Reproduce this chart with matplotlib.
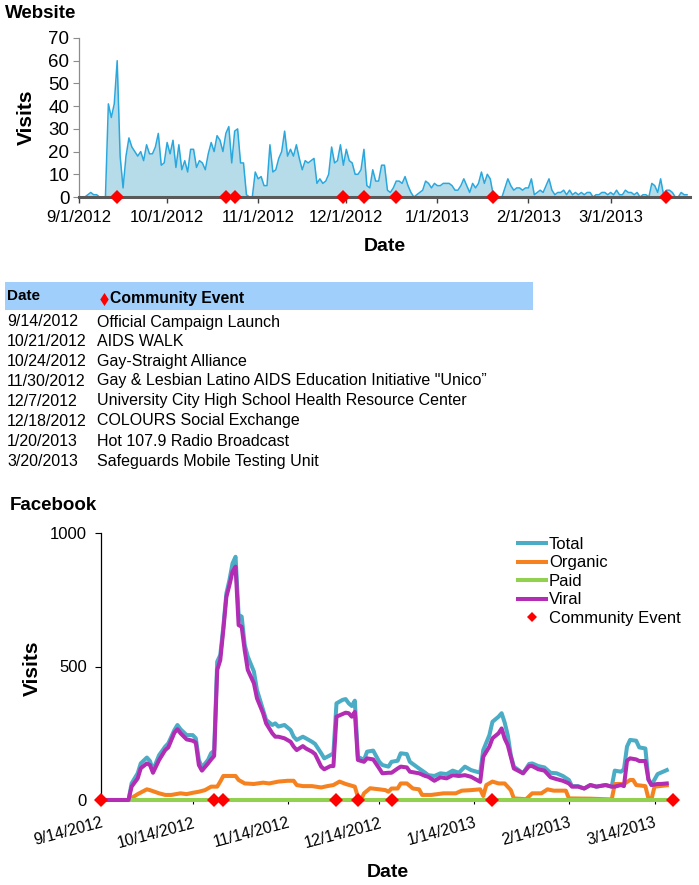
import matplotlib
matplotlib.use('Agg')
import matplotlib.pyplot as plt
import matplotlib.dates as mdates
from matplotlib.patches import Rectangle
from matplotlib.lines import Line2D
from matplotlib.ticker import FuncFormatter
import datetime as dt

plt.rcParams['font.family'] = ['Liberation Sans', 'DejaVu Sans']

# ---------------- data ----------------
web_start = dt.date(2012, 9, 1)
web_visits = [
    0, 0, 0, 1, 2, 1, 1, 0, 0, 0,
    41, 35, 41, 60, 18, 4, 18, 26, 22, 20,
    18, 20, 16, 23, 19, 19, 22, 28, 14, 15,
    24, 19, 25, 13, 23, 12, 16, 11, 21, 21,
    13, 16, 15, 12, 19, 24, 20, 27, 25, 20,
    28, 31, 15, 29, 30, 15, 15, 1, 0, 0,
    11, 8, 9, 5, 5, 23, 11, 12, 17, 20,
    29, 18, 21, 18, 23, 17, 12, 16, 15, 16,
    17, 6, 8, 6, 7, 10, 22, 15, 16, 23,
    14, 21, 16, 15, 10, 10, 12, 21, 5, 4,
    12, 7, 7, 14, 14, 3, 2, 4, 7, 7,
    6, 9, 5, 2, 0, 1, 2, 3, 7, 6,
    4, 6, 5, 5, 6, 6, 6, 5, 3, 3,
    5, 8, 5, 2, 6, 4, 6, 11, 6, 10,
    8, 1, 0, 0, 0, 4, 8, 5, 3, 4,
    4, 3, 4, 4, 8, 1, 2, 3, 2, 5,
    8, 3, 1, 2, 2, 3, 1, 3, 1, 2,
    1, 2, 1, 2, 2, 0, 1, 1, 2, 2,
    1, 2, 1, 3, 1, 1, 3, 2, 2, 1,
    2, 0, 1, 1, 0, 6, 5, 2, 8, 1,
    3, 3, 2, 0, 0, 2, 1, 1,
]

event_dates = ['9/14/2012', '10/21/2012', '10/24/2012', '11/30/2012',
               '12/7/2012', '12/18/2012', '1/20/2013', '3/20/2013']
event_names = ['Official Campaign Launch', 'AIDS WALK', 'Gay-Straight Alliance',
               'Gay & Lesbian Latino AIDS Education Initiative "Unico\u201d',
               'University City High School Health Resource Center',
               'COLOURS Social Exchange', 'Hot 107.9 Radio Broadcast',
               'Safeguards Mobile Testing Unit']

fb_start = dt.date(2012, 9, 14)
fb_tv_days = [0, 9, 10, 12, 13, 15, 16, 17, 19, 21, 22, 24, 25, 26, 28, 30, 31, 32, 33,
              35, 36, 37, 38, 39, 40, 41, 42, 43, 44, 45, 46, 47, 48, 50, 51, 53, 54,
              56, 57, 58, 60, 62, 63, 64, 66, 67, 69, 70, 72, 73, 75, 76, 77, 79, 80,
              81, 82, 83, 84, 86, 87, 89, 91, 92, 94, 95, 97, 98, 100, 101, 104, 106,
              107, 109, 111, 113, 115, 117, 119, 121, 124, 125, 127, 128, 130, 131,
              132, 133, 134, 135, 138, 140, 141, 143, 145, 147, 149, 151, 153, 154,
              156, 158, 160, 162, 165, 167, 168, 170, 171, 172, 173, 175, 176, 178,
              179, 180, 182, 183, 185]
fb_total = [0, 0, 62, 100, 137, 159, 146, 112, 168, 200, 212, 262, 281, 265, 243, 243,
            231, 150, 122, 150, 175, 185, 518, 543, 649, 774, 824, 886, 911, 693, 687,
            580, 537, 481, 412, 337, 300, 281, 287, 275, 281, 262, 237, 225, 237, 231,
            218, 210, 175, 156, 168, 175, 362, 375, 378, 362, 352, 372, 162, 150, 181,
            185, 143, 131, 125, 143, 147, 175, 172, 143, 118, 102, 93, 90, 100, 97, 110,
            102, 125, 112, 102, 187, 243, 293, 312, 325, 290, 243, 168, 125, 100, 135,
            137, 127, 122, 102, 100, 90, 75, 52, 52, 43, 56, 50, 56, 50, 110, 106, 115,
            200, 225, 222, 197, 193, 77, 56, 97, 102, 112]
fb_viral = [0, 0, 50, 81, 119, 137, 131, 102, 150, 187, 197, 252, 265, 250, 227, 222,
            215, 131, 110, 137, 152, 165, 487, 524, 637, 761, 805, 855, 874, 655, 649,
            560, 487, 437, 381, 325, 287, 250, 237, 237, 231, 218, 200, 187, 202, 193,
            181, 172, 125, 115, 127, 127, 312, 322, 327, 325, 312, 330, 150, 143, 156,
            152, 118, 100, 102, 102, 118, 125, 122, 106, 100, 90, 87, 72, 85, 81, 93,
            90, 93, 87, 68, 162, 200, 231, 250, 268, 230, 206, 162, 118, 100, 127,
            127, 115, 110, 85, 78, 72, 62, 50, 50, 43, 56, 50, 56, 50, 50, 56, 52,
            147, 156, 152, 146, 146, 77, 56, 60, 60, 62]
fb_org_days = [0, 9, 12, 15, 16, 19, 21, 23, 26, 28, 30, 32, 34, 36, 38, 39, 40, 44, 45,
               47, 50, 53, 55, 58, 61, 63, 64, 66, 69, 72, 74, 76, 78, 80, 83, 84, 85,
               86, 88, 91, 93, 94, 95, 97, 98, 100, 102, 104, 105, 108, 110, 112, 116,
               118, 121, 124, 125, 126, 128, 130, 132, 134, 135, 139, 141, 144, 146,
               148, 152, 153, 160, 167, 168, 171, 173, 174, 175, 178, 179, 180, 181, 185]
fb_organic = [0, 0, 22, 40, 37, 25, 19, 19, 25, 22, 27, 31, 37, 50, 50, 69, 90, 90, 75,
              62, 60, 65, 62, 69, 72, 72, 56, 52, 52, 47, 52, 56, 69, 60, 50, 12, 0,
              25, 44, 40, 37, 31, 43, 43, 62, 62, 43, 40, 19, 19, 22, 25, 25,
              35, 37, 40, 15, 56, 69, 62, 62, 37, 6, 3, 25, 25, 40,
              35, 35, 6, 5, 2, 60, 60, 75, 75, 56, 52, 6, 3, 50, 55]
fb_paid_days = [0, 185]
fb_paid = [0, 0]

# ---------------- figure ----------------
W, H = 699, 885
fig = plt.figure(figsize=(W / 100, H / 100), dpi=100)


def fx(px):
    return px / W


def fy(py):
    return 1 - py / H


def date_fmt(x, pos=None):
    d = mdates.num2date(x)
    return f"{d.month}/{d.day}/{d.year}"


events = [dt.datetime.strptime(s, '%m/%d/%Y') for s in event_dates]

# ---- Website chart ----
ax1 = fig.add_axes([fx(79), fy(197), fx(690) - fx(79), (197 - 38) / H])
wx = [web_start + dt.timedelta(days=i) for i in range(len(web_visits))]
ax1.fill_between(wx, web_visits, 0, color='#B5DCE8', lw=0, zorder=1)
ax1.plot(wx, web_visits, color='#2AA8DE', lw=1.1, zorder=2)
ax1.plot(events, [0] * len(events), 'D', color='#FF0000', ms=7.5, mew=0,
         clip_on=False, zorder=6)
ax1.set_xlim(dt.date(2012, 9, 1), dt.date(2013, 3, 28))
ax1.set_ylim(0, 70)
ax1.set_yticks(range(0, 71, 10))
ax1.xaxis.set_major_locator(mdates.MonthLocator())
ax1.xaxis.set_major_formatter(FuncFormatter(date_fmt))
for s in ['top', 'right']:
    ax1.spines[s].set_visible(False)
ax1.spines['left'].set_color('#8C8C8C')
ax1.spines['left'].set_linewidth(0.9)
ax1.spines['bottom'].set_color('#595959')
ax1.spines['bottom'].set_linewidth(2.2)
ax1.tick_params(axis='y', length=4, width=0.8, color='#8C8C8C', labelsize=13.5, pad=3)
ax1.tick_params(axis='x', length=4, width=1.0, color='#404040', labelsize=12, pad=5)
ax1.set_ylabel('Visits', fontsize=15, fontweight='bold')
ax1.yaxis.set_label_coords((36 - 79) / 611, (197 - 117) / 159)
ax1.set_xlabel('Date', fontsize=14, fontweight='bold')
ax1.xaxis.set_label_coords((385 - 79) / 611, (197 - 238) / 159)

fig.text(fx(5), fy(13), 'Website', fontsize=13.5, fontweight='bold',
         ha='left', va='center')

# ---- Event table ----
band = Rectangle((fx(5), fy(310)), fx(533) - fx(5), 28 / H, transform=fig.transFigure,
                 facecolor='#9FCFFA', edgecolor='none', zorder=0)
fig.patches.append(band)
fig.text(fx(7), fy(296), 'Date', fontsize=11, fontweight='bold', ha='left', va='center')
diamond = [(0, 1), (0.65, 0), (0, -1), (-0.65, 0), (0, 1)]
fig.lines.append(Line2D([fx(103.5)], [fy(298.5)], marker=diamond, ms=9.4, mew=0,
                        color='#FF0000', ls='none', transform=fig.transFigure))
fig.text(fx(110), fy(299), 'Community Event', fontsize=11.3, fontweight='bold',
         ha='left', va='center')
row_y = [322, 342, 361, 381, 401, 421, 441, 461]
for yy, d, n in zip(row_y, event_dates, event_names):
    fig.text(fx(7), fy(yy), d, fontsize=11.5, ha='left', va='center')
    fig.text(fx(97), fy(yy), n, fontsize=11.5, ha='left', va='center')

# ---- Facebook chart ----
ax2 = fig.add_axes([fx(101), fy(800), fx(679) - fx(101), (800 - 533) / H])
tv_x = [fb_start + dt.timedelta(days=d) for d in fb_tv_days]
org_x = [fb_start + dt.timedelta(days=d) for d in fb_org_days]
paid_x = [fb_start + dt.timedelta(days=d) for d in fb_paid_days]
c_total, c_org, c_paid, c_viral = '#4BACC6', '#F5821F', '#92D050', '#B22DB3'
lw = 2.9
ax2.plot(tv_x, fb_total, color=c_total, lw=lw, zorder=3)
ax2.plot(org_x, fb_organic, color=c_org, lw=lw, zorder=3)
ax2.plot(paid_x, fb_paid, color=c_paid, lw=lw, zorder=3, clip_on=False)
ax2.plot(tv_x, fb_viral, color=c_viral, lw=lw, zorder=3, clip_on=False)
ax2.plot(events, [0] * len(events), 'D', color='#FF0000', ms=7.5, mew=0,
         clip_on=False, zorder=6)
ax2.set_xlim(dt.date(2012, 9, 14), dt.date(2013, 3, 22))
ax2.set_ylim(0, 1000)
ax2.set_yticks([0, 500, 1000])
ax2.xaxis.set_major_locator(mdates.MonthLocator(bymonthday=14))
ax2.xaxis.set_major_formatter(FuncFormatter(date_fmt))
for s in ['top', 'right', 'bottom']:
    ax2.spines[s].set_visible(False)
ax2.spines['left'].set_color('black')
ax2.spines['left'].set_linewidth(0.9)
ax2.tick_params(axis='y', length=4, width=0.8, labelsize=12, pad=6)
ax2.tick_params(axis='x', length=3, width=0.8, labelsize=11.5, pad=8)
for lab in ax2.get_xticklabels():
    lab.set_rotation(15)
    lab.set_ha('right')
    lab.set_rotation_mode('anchor')
ax2.set_ylabel('Visits', fontsize=15, fontweight='bold')
ax2.yaxis.set_label_coords((42 - 101) / 578, (800 - 668) / 267)
ax2.set_xlabel('Date', fontsize=14, fontweight='bold')
ax2.xaxis.set_label_coords((388 - 101) / 578, (800 - 864) / 267)

handles = [Line2D([], [], color=c_total, lw=lw),
           Line2D([], [], color=c_org, lw=lw),
           Line2D([], [], color=c_paid, lw=lw),
           Line2D([], [], color=c_viral, lw=lw),
           Line2D([], [], color='#FF0000', marker='D', ms=5.5, mew=0, ls='none')]
labels = ['Total', 'Organic', 'Paid', 'Viral', 'Community Event']
ax2.legend(handles, labels, loc='upper left', bbox_to_anchor=(fx(518), fy(537)),
           bbox_transform=fig.transFigure, frameon=False, fontsize=12,
           handlelength=1.65, handletextpad=0.2, labelspacing=0.21,
           borderpad=0, borderaxespad=0)

fig.text(fx(10), fy(506), 'Facebook', fontsize=13.5, fontweight='bold',
         ha='left', va='center')

fig.savefig('out.png', dpi=100)
